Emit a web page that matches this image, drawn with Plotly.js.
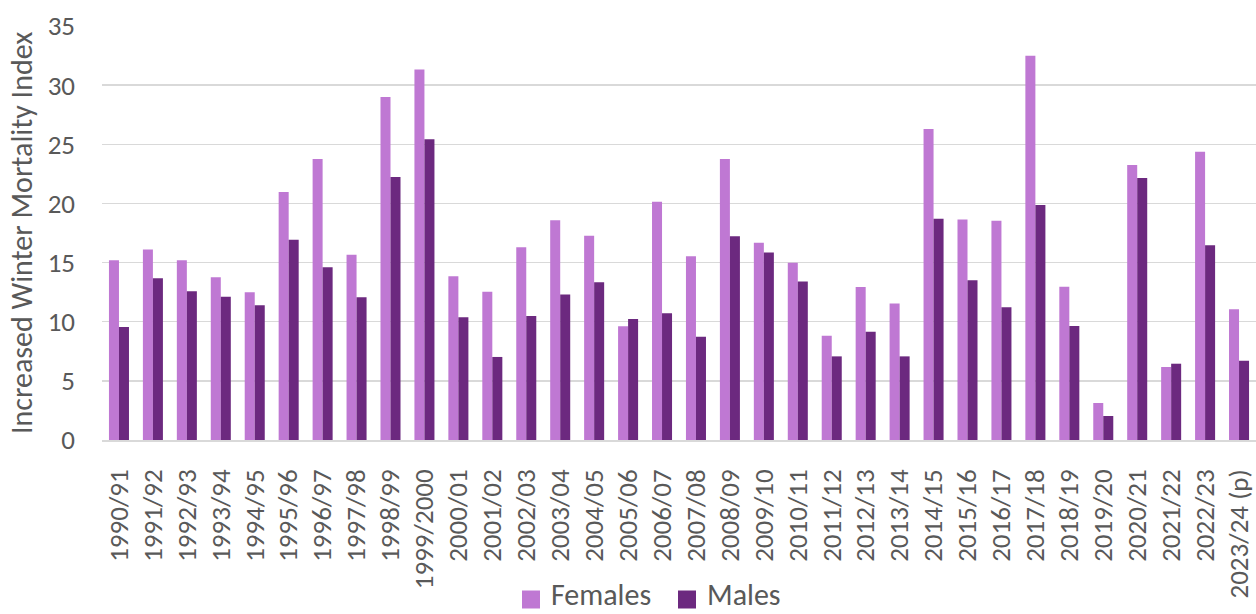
<!DOCTYPE html>
<html>
<head>
<meta charset="utf-8">
<script src="https://cdn.plot.ly/plotly-3.0.1.min.js"></script>
<style>html,body{margin:0;padding:0;background:#fff;}#chart{width:1256px;height:614px;}</style>
</head>
<body>
<div id="chart"></div>
<script>
var seasons = ["1990/91","1991/92","1992/93","1993/94","1994/95","1995/96","1996/97","1997/98","1998/99","1999/2000","2000/01","2001/02","2002/03","2003/04","2004/05","2005/06","2006/07","2007/08","2008/09","2009/10","2010/11","2011/12","2012/13","2013/14","2014/15","2015/16","2016/17","2017/18","2018/19","2019/20","2020/21","2021/22","2022/23","2023/24 (p)"];
var females = [15.2,16.1,15.2,13.75,12.5,20.96,23.75,15.66,29.0,31.33,13.84,12.54,16.29,18.57,17.27,9.61,20.15,15.53,23.75,16.68,14.99,8.82,12.93,11.55,26.29,18.65,18.54,32.49,12.96,3.13,23.25,6.17,24.37,11.05];
var males = [9.55,13.67,12.57,12.1,11.4,16.93,14.6,12.06,22.23,25.42,10.37,7.02,10.48,12.31,13.33,10.23,10.71,8.73,17.22,15.86,13.41,7.07,9.16,7.07,18.71,13.5,11.22,19.87,9.64,2.03,22.15,6.45,16.46,6.7];
var yTicks = [0,5,10,15,20,25,30,35];

var font = "Carlito, Calibri, 'Open Sans', sans-serif";
var traces = [
  {type:'bar', name:'Females', x:seasons, y:females, marker:{color:'#BF78D3'}},
  {type:'bar', name:'Males', x:seasons, y:males, marker:{color:'#6C297F'}}
];
var layout = {
  width:1256, height:614,
  margin:{l:102, r:0, t:26, b:174},
  paper_bgcolor:'#fff', plot_bgcolor:'#fff',
  barmode:'group', bargap:0.41, bargroupgap:0,
  font:{family:font, color:'#595959'},
  xaxis:{type:'category', tickangle:-90, tickfont:{size:27, color:'#595959'}, ticklabelstandoff:17,
         showline:true, linecolor:'#D9D9D9', linewidth:1.5, ticks:'', showgrid:false, automargin:false},
  yaxis:{range:[0,35], tickvals:yTicks, ticktext:yTicks.map(String), tickfont:{size:27, color:'#595959'},
         showgrid:true, gridcolor:'#D9D9D9', gridwidth:1.5, zeroline:false, ticks:'', ticklabelstandoff:26,
         title:{text:'Increased Winter Mortality Index', font:{size:30, color:'#595959'}, standoff:6}, automargin:false},
  legend:{orientation:'h', x:0.476, xanchor:'center', y:-0.2, yanchor:'top', entrywidth:111,
          font:{size:30, color:'#595959'}},
  showlegend:true
};
function shift(el, dx, dy) {
  var t = el.getAttribute('transform') || '';
  var m = /translate\(\s*([-\d.e]+)[ ,]+([-\d.e]+)\s*\)/.exec(t);
  var tx = m ? parseFloat(m[1]) : 0, ty = m ? parseFloat(m[2]) : 0;
  var rest = m ? t.replace(m[0], '') : t;
  el.setAttribute('transform', 'translate(' + (tx + dx) + ',' + (ty + dy) + ')' + rest);
}
Plotly.newPlot('chart', traces, layout, {displayModeBar:false, staticPlot:true}).then(function(gd){
  var leg = gd.querySelector('g.legend');
  var pts = gd.querySelectorAll('.legend .legendpoints path');
  pts.forEach(function(p){ p.setAttribute('transform', (p.getAttribute('transform')||'') + ' scale(1.5)'); });
  var txt = gd.querySelector('.legend text.legendtext');
  if (leg && txt && pts.length) {
    var rt = txt.getBoundingClientRect();
    var dy = 613 - rt.bottom;
    var r = pts[0].getBoundingClientRect();
    var dx = 522 - r.left;
    shift(leg, dx, dy);
    rt = txt.getBoundingClientRect();
    var want = rt.top + rt.height/2 + 5;
    pts.forEach(function(p){
      var rp = p.getBoundingClientRect();
      var d = want - (rp.top + rp.height/2);
      p.setAttribute('transform', 'translate(0,' + d + ') ' + (p.getAttribute('transform')||''));
    });
  }
  var clip = document.querySelectorAll('clipPath[id^="legend"] rect');
  clip.forEach(function(c){ c.setAttribute('height', 200); c.setAttribute('y', -100); });
});
</script>
</body>
</html>
